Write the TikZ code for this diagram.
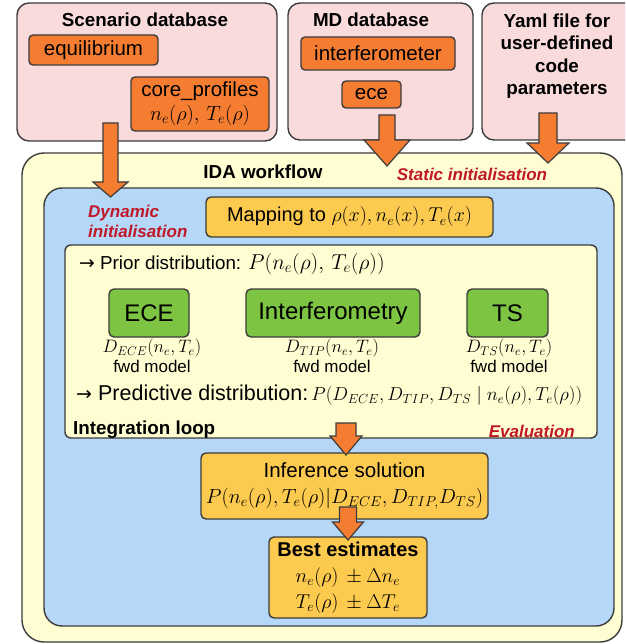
\RequirePackage{fix-cm}
\documentclass[tikz,border=0pt]{standalone}
\usepackage[no-math]{fontspec}
\setmainfont{Liberation Sans}
\newfontfamily\arrfont{DejaVu Sans}
\definecolor{pinkC}{RGB}{250,219,220}
\definecolor{orangeC}{RGB}{245,125,50}
\definecolor{ylwC}{RGB}{255,253,210}
\definecolor{blueC}{RGB}{182,216,248}
\definecolor{goldC}{RGB}{251,202,78}
\definecolor{greenC}{RGB}{124,196,66}
\definecolor{redC}{RGB}{192,24,40}
\definecolor{lineC}{RGB}{60,60,60}
\newcommand\fs[1]{\fontsize{#1}{#1}\selectfont}
\newcommand\orarrow[6]{% cx, top, head, tip, shaft half, head half
  \draw[blockarrow] (#1-#5,#2) -- (#1-#5,#3) -- (#1-#6,#3) -- (#1,#4) -- (#1+#6,#3) -- (#1+#5,#3) -- (#1+#5,#2) -- cycle;}
\begin{document}
\begin{tikzpicture}[x=1pt,y=-1pt,
  frame/.style={draw=lineC,line width=1.4pt},
  dbbox/.style={frame,fill=pinkC,rounded corners=12pt},
  orbox/.style={frame,fill=orangeC,rounded corners=4pt,inner sep=0pt,align=center,font=\fs{20.5}},
  goldbox/.style={frame,fill=goldC,rounded corners=5pt,inner sep=0pt,align=center},
  greenbox/.style={frame,fill=greenC,rounded corners=5pt,inner sep=0pt,font=\fs{24}},
  title/.style={font=\bfseries\fs{18.8},inner sep=0pt},
  redlabel/.style={font=\bfseries\itshape\fs{17},text=redC,inner sep=0pt},
  txt/.style={inner sep=0pt},
  blockarrow/.style={draw=lineC,line width=1.2pt,fill=orangeC,line join=miter}]
\useasboundingbox (0,0) rectangle (625,644);
\clip (0,0) rectangle (625,644);
% databases
\draw[dbbox] (17,3) rectangle (277,141);
\draw[dbbox] (288,3) rectangle (473,140);
\draw[dbbox] (482,3) rectangle (650,140);
\node[title] (scen) at (145,20) {Scenario database};
\node[title] (md) at (371,20) {MD database};
\node[title,align=center,font=\bfseries\fontsize{18.8}{22.5}\selectfont] (yaml) at (557,56) {Yaml file for\\user-defined\\code\\parameters};
\node[orbox,minimum width=129pt,minimum height=30pt] (equi) at (93.5,50) {equilibrium};
\node[orbox,minimum width=138pt,minimum height=54pt,font=\fontsize{20.5}{24}\selectfont] (core) at (200,104) {core\_profiles\\$n_e(\rho),\,T_e(\rho)$};
\node[orbox,minimum width=154pt,minimum height=33pt] (interf) at (378,53.5) {interferometer};
\node[orbox,minimum width=59pt,minimum height=27pt] (ece) at (371.5,94.5) {ece};
% IDA workflow
\draw[frame,fill=ylwC,rounded corners=22pt] (22,153) rectangle (622,642);
\node[title] (ida) at (263,172) {IDA workflow};
\node[redlabel] (static) at (472,174) {Static initialisation};
\draw[frame,fill=blueC,rounded corners=18pt] (44,188) rectangle (614,626);
\node[redlabel,align=left,anchor=west,font=\bfseries\itshape\fontsize{17}{20}\selectfont] (dyn) at (88,221) {Dynamic\\initialisation};
\node[goldbox,minimum width=287pt,minimum height=40pt,font=\fs{20}] (map) at (349.5,217) {Mapping to $\rho(x),n_e(x),T_e(x)$};
% integration loop
\draw[frame,fill=ylwC,rounded corners=6pt] (65,245) rectangle (597,438);
\node[txt,anchor=west,font=\fs{18.8}] (prior) at (79,264) {{\arrfont →} Prior distribution: {\fs{21.5}$P(n_e(\rho),\,T_e(\rho))$}};
\node[greenbox,minimum width=80pt,minimum height=48pt] (ECE) at (149,313) {ECE};
\node[greenbox,minimum width=174pt,minimum height=48pt] (IF) at (333,313) {Interferometry};
\node[greenbox,minimum width=81pt,minimum height=48pt] (TS) at (507.5,313) {TS};
\node[txt,font=\fs{18}] (dece) at (152,348) {$D_{ECE}(n_e,T_e)$};
\node[txt,font=\fs{18}] (dtip) at (332,348) {$D_{TIP}(n_e,T_e)$};
\node[txt,font=\fs{18}] (dts) at (509,348) {$D_{TS}(n_e,T_e)$};
\node[txt,font=\fs{17}] (fw1) at (152,366) {fwd model};
\node[txt,font=\fs{17}] (fw2) at (332,366) {fwd model};
\node[txt,font=\fs{17}] (fw3) at (509,366) {fwd model};
\node[txt,anchor=west,font=\fs{21.5}] (pred) at (76,395) {{\arrfont\fs{19}→} Predictive distribution:\hspace{3pt}{\fs{18.8}$P(D_{ECE},D_{TIP},D_{TS}\mid n_e(\rho),T_e(\rho))$}};
\node[title,anchor=west] (loop) at (73,430) {Integration loop};
\node[redlabel,anchor=east] (eval) at (575,431) {Evaluation};
% results
\node[goldbox,minimum width=287pt,minimum height=66pt,font=\fontsize{20.5}{25}\selectfont] (inf) at (344.5,486) {Inference solution\\$P(n_e(\rho),T_e(\rho)|D_{ECE},D_{TIP,}D_{TS})$};
\node[goldbox,minimum width=158pt,minimum height=81pt,font=\fontsize{20}{26}\selectfont] (best) at (348,577.5) {\textbf{Best estimates}\\$n_e(\rho)\,\pm\Delta n_e$\\$T_e(\rho)\,\pm\Delta T_e$};
% block arrows
\orarrow{110.5}{123}{182}{197}{7.5}{17.5}
\orarrow{387}{115}{140}{166}{8}{23}
\orarrow{548}{113}{143}{163}{9}{21}
\orarrow{346}{423}{436}{455}{10}{16}
\orarrow{348}{507}{522}{540}{8.5}{15.5}
\end{tikzpicture}
\end{document}
